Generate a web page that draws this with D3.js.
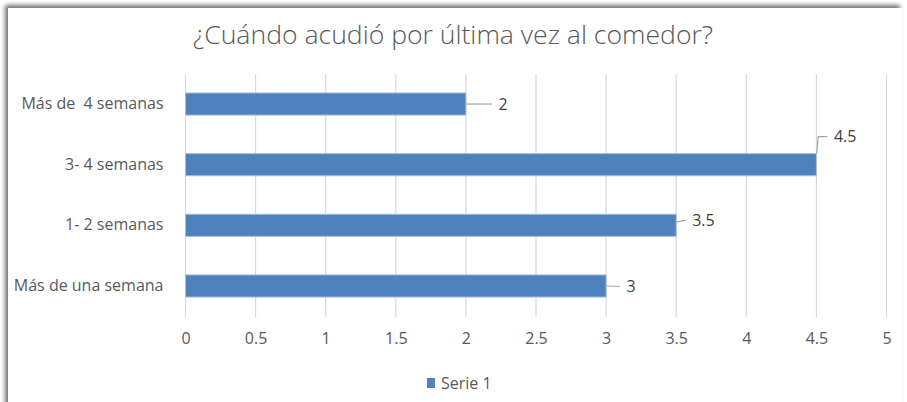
<!DOCTYPE html>
<html>
<head>
<meta charset="utf-8">
<script src="https://cdn.jsdelivr.net/npm/d3@7"></script>
<style>
  html, body { margin: 0; padding: 0; background: #ffffff; }
  svg { display: block; }
  text { font-family: "Open Sans", "Liberation Sans", sans-serif; white-space: pre; }
</style>
</head>
<body>
<svg id="chart" width="907" height="402"></svg>
<script>
// Survey answers, listed top to bottom as drawn
const categories = ["Más de  4 semanas", "3- 4 semanas", "1- 2 semanas", "Más de una semana"];
const values = [2, 4.5, 3.5, 3];
const xTicks = [0, 0.5, 1, 1.5, 2, 2.5, 3, 3.5, 4, 4.5, 5];
const seriesName = "Serie 1";
const title = "¿Cuándo acudió por última vez al comedor?";

// Data labels were dragged away from the bar ends; offsets of each label (px)
const labelOffsets = [
  { dx: 32.5, dy: 0 },
  { dx: 17.5, dy: -28 },
  { dx: 16, dy: -5 },
  { dx: 20.5, dy: 0.5 }
];

const W = 907, H = 402;
const plot = { left: 185.5, right: 886.5, top: 74, bottom: 317 };
const barColor = "#4F81BD";

const svg = d3.select("#chart");

// Card with a soft shadow on its top and left edges
const defs = svg.append("defs");
const f = defs.append("filter").attr("id", "shadow")
  .attr("x", "-5%").attr("y", "-10%").attr("width", "110%").attr("height", "120%");
f.append("feDropShadow").attr("dx", -3).attr("dy", -3)
  .attr("stdDeviation", 2.2).attr("flood-color", "#000").attr("flood-opacity", 0.55);
svg.append("rect").attr("width", W).attr("height", H).attr("fill", "#ffffff");
svg.append("rect")
  .attr("x", 8).attr("y", 8).attr("width", W - 12).attr("height", H)
  .attr("fill", "#ffffff").attr("filter", "url(#shadow)");

const x = d3.scaleLinear().domain([0, 5]).range([plot.left, plot.right]);
const pad = 0.635;
const y = d3.scaleBand().domain(categories)
  .range([plot.top - 0.3, plot.bottom - 0.7])
  .paddingInner(pad).paddingOuter(pad / 2);

// Title
svg.append("text")
  .attr("x", 453).attr("y", 44)
  .attr("text-anchor", "middle")
  .attr("font-size", 26)
  .attr("font-weight", 300)
  .attr("fill", "#595959")
  .attr("textLength", 520)
  .attr("lengthAdjust", "spacingAndGlyphs")
  .text(title);

// Vertical gridlines
svg.append("g")
  .selectAll("line")
  .data(xTicks)
  .join("line")
  .attr("x1", d => x(d)).attr("x2", d => x(d))
  .attr("y1", plot.top).attr("y2", plot.bottom)
  .attr("stroke", "#D9D9D9").attr("stroke-width", 1.2);

// X axis tick labels
const xAxis = d3.axisBottom(x).tickValues(xTicks).tickSize(0).tickPadding(0)
  .tickFormat(d => String(d));
const gx = svg.append("g").attr("transform", `translate(0,${plot.bottom + 16})`).call(xAxis);
gx.select(".domain").remove();
gx.selectAll("text").attr("font-size", 16).attr("fill", "#595959")
  .attr("font-family", "\"Open Sans\", sans-serif");

// Category labels
const yAxis = d3.axisLeft(y).tickSize(0).tickPadding(0);
const gy = svg.append("g").attr("transform", `translate(${plot.left - 22},0)`).call(yAxis);
gy.select(".domain").remove();
gy.selectAll("text").attr("font-size", 16).attr("fill", "#595959")
  .attr("font-family", "\"Open Sans\", sans-serif");

// Bars
const rows = categories.map((c, i) => ({ c, v: values[i], off: labelOffsets[i] }));
svg.append("g")
  .selectAll("rect")
  .data(rows)
  .join("rect")
  .attr("x", x(0))
  .attr("y", d => y(d.c))
  .attr("width", d => x(d.v) - x(0))
  .attr("height", y.bandwidth())
  .attr("fill", barColor)
  .attr("stroke", "#A7BFDF").attr("stroke-width", 1);

// Leader lines from bar ends to the moved labels
const leaders = svg.append("g").attr("fill", "none").attr("stroke", "#A6A6A6").attr("stroke-width", 1.2);
rows.forEach(d => {
  const x0 = x(d.v), y0 = y(d.c) + y.bandwidth() / 2;
  const lx = x0 + d.off.dx - 6.5, ly = y0 + d.off.dy;
  const p = d3.path();
  if (ly < y(d.c)) {
    p.moveTo(x0 + 0.3, y(d.c));
    p.lineTo(x0 + 1.8, ly);
    p.lineTo(lx, ly);
  } else {
    p.moveTo(x0, Math.min(y0, ly + 1.5));
    p.lineTo(lx, ly);
  }
  leaders.append("path").attr("d", p.toString());
});

// Value labels
svg.append("g")
  .selectAll("text")
  .data(rows)
  .join("text")
  .attr("x", d => x(d.v) + d.off.dx)
  .attr("y", d => y(d.c) + y.bandwidth() / 2 + d.off.dy)
  .attr("dy", "0.35em")
  .attr("font-size", 16)
  .attr("fill", "#404040")
  .text(d => String(d.v));

// Legend
const lg = svg.append("g").attr("transform", "translate(427,378)");
lg.append("rect").attr("width", 8).attr("height", 10).attr("fill", barColor);
lg.append("text").attr("x", 14).attr("y", 5).attr("dy", "0.35em")
  .attr("font-size", 16).attr("fill", "#595959").text(seriesName);
</script>
</body>
</html>
